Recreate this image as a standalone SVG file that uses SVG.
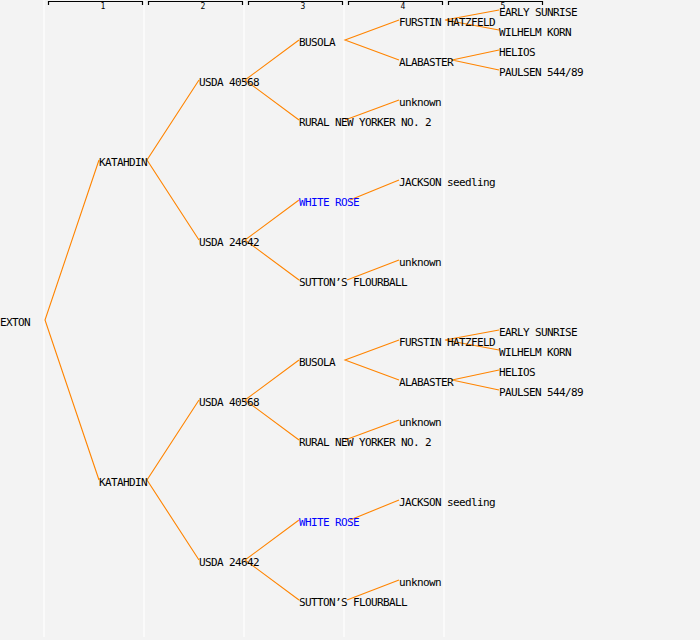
<svg xmlns="http://www.w3.org/2000/svg" width="700" height="640" viewBox="0 0 700 640">
<style>
.bg{fill:#f3f3f3}
.col{stroke:#ffffff;stroke-width:1.2}
.br{fill:none;stroke:#000;stroke-width:1.2}
.hd{font-family:"DejaVu Sans Mono","Liberation Mono",monospace;font-size:8px;fill:#000}
.lbl{font-family:"DejaVu Sans Mono","Liberation Mono",monospace;font-size:11px;letter-spacing:-0.62px;fill:#000}
.blue{fill:#0000ff}
.cn path{fill:none;stroke:#ff8400;stroke-width:1.1}
</style>
<rect class="bg" x="0" y="0" width="700" height="640"/>
<g id="grid">
<line class="col" x1="44" y1="0" x2="44" y2="637"/>
<line class="col" x1="144" y1="0" x2="144" y2="637"/>
<line class="col" x1="244" y1="0" x2="244" y2="637"/>
<line class="col" x1="344" y1="0" x2="344" y2="637"/>
<line class="col" x1="444" y1="0" x2="444" y2="637"/>
</g>
<g id="headers">
<path class="br" d="M48.5,5 V1.5 H142.5 V5"/>
<path class="br" d="M148.5,5 V1.5 H242.5 V5"/>
<path class="br" d="M248.5,5 V1.5 H342.5 V5"/>
<path class="br" d="M348.5,5 V1.5 H442.5 V5"/>
<path class="br" d="M448.5,5 V1.5 H542.5 V5"/>
<text class="hd" x="100.5" y="9">1</text>
<text class="hd" x="200.5" y="9">2</text>
<text class="hd" x="300.5" y="9">3</text>
<text class="hd" x="400.5" y="9">4</text>
<text class="hd" x="500.5" y="9">5</text>
</g>
<g class="cn" id="connectors">
<path d="M99,160 L45,320 L99,480"/>
<path d="M199,80 L147,160 L199,240"/>
<path d="M299,40 L245,80 L299,120"/>
<path d="M299,200 L245,240 L299,280"/>
<path d="M399,20 L345,40 L399,60"/>
<path d="M345,120 L399,100"/>
<path d="M350,200 L399,180"/>
<path d="M347,280 L399,260"/>
<path d="M499,10 L445,20 L499,30"/>
<path d="M499,50 L452,60 L499,70"/>
<path d="M199,400 L147,480 L199,560"/>
<path d="M299,360 L245,400 L299,440"/>
<path d="M299,520 L245,560 L299,600"/>
<path d="M399,340 L345,360 L399,380"/>
<path d="M345,440 L399,420"/>
<path d="M350,520 L399,500"/>
<path d="M347,600 L399,580"/>
<path d="M499,330 L445,340 L499,350"/>
<path d="M499,370 L452,380 L499,390"/>
</g>
<g id="n-exton"><text class="lbl" x="0" y="326">EXTON</text></g>
<g id="n-katahdin-1"><text class="lbl" x="99" y="166">KATAHDIN</text></g>
<g id="n-usda40568-1"><text class="lbl" x="199" y="86">USDA 40568</text></g>
<g id="n-usda24642-1"><text class="lbl" x="199" y="246">USDA 24642</text></g>
<g id="n-busola-1"><text class="lbl" x="299" y="46">BUSOLA</text></g>
<g id="n-rural-1"><text class="lbl" x="299" y="126">RURAL NEW YORKER NO. 2</text></g>
<g id="n-whiterose-1"><text class="lbl blue" x="299" y="206">WHITE ROSE</text></g>
<g id="n-sutton-1"><text class="lbl" x="299" y="286">SUTTON’S FLOURBALL</text></g>
<g id="n-furstin-1"><text class="lbl" x="399" y="26">FURSTIN HATZFELD</text></g>
<g id="n-alabaster-1"><text class="lbl" x="399" y="66">ALABASTER</text></g>
<g id="n-unknown-1a"><text class="lbl" x="399" y="106">unknown</text></g>
<g id="n-jackson-1"><text class="lbl" x="399" y="186">JACKSON seedling</text></g>
<g id="n-unknown-1b"><text class="lbl" x="399" y="266">unknown</text></g>
<g id="n-early-1"><text class="lbl" x="499" y="16">EARLY SUNRISE</text></g>
<g id="n-wilhelm-1"><text class="lbl" x="499" y="36">WILHELM KORN</text></g>
<g id="n-helios-1"><text class="lbl" x="499" y="56">HELIOS</text></g>
<g id="n-paulsen-1"><text class="lbl" x="499" y="76">PAULSEN 544/89</text></g>
<g id="n-katahdin-2"><text class="lbl" x="99" y="486">KATAHDIN</text></g>
<g id="n-usda40568-2"><text class="lbl" x="199" y="406">USDA 40568</text></g>
<g id="n-usda24642-2"><text class="lbl" x="199" y="566">USDA 24642</text></g>
<g id="n-busola-2"><text class="lbl" x="299" y="366">BUSOLA</text></g>
<g id="n-rural-2"><text class="lbl" x="299" y="446">RURAL NEW YORKER NO. 2</text></g>
<g id="n-whiterose-2"><text class="lbl blue" x="299" y="526">WHITE ROSE</text></g>
<g id="n-sutton-2"><text class="lbl" x="299" y="606">SUTTON’S FLOURBALL</text></g>
<g id="n-furstin-2"><text class="lbl" x="399" y="346">FURSTIN HATZFELD</text></g>
<g id="n-alabaster-2"><text class="lbl" x="399" y="386">ALABASTER</text></g>
<g id="n-unknown-2a"><text class="lbl" x="399" y="426">unknown</text></g>
<g id="n-jackson-2"><text class="lbl" x="399" y="506">JACKSON seedling</text></g>
<g id="n-unknown-2b"><text class="lbl" x="399" y="586">unknown</text></g>
<g id="n-early-2"><text class="lbl" x="499" y="336">EARLY SUNRISE</text></g>
<g id="n-wilhelm-2"><text class="lbl" x="499" y="356">WILHELM KORN</text></g>
<g id="n-helios-2"><text class="lbl" x="499" y="376">HELIOS</text></g>
<g id="n-paulsen-2"><text class="lbl" x="499" y="396">PAULSEN 544/89</text></g>
</svg>
